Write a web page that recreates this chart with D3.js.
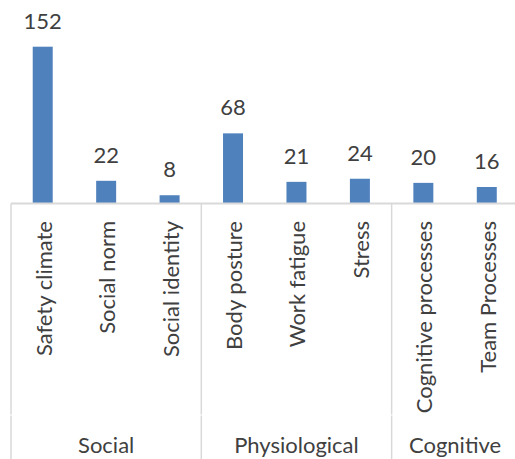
<!DOCTYPE html>
<html>
<head>
<meta charset="utf-8">
<script src="https://cdn.jsdelivr.net/npm/d3@7"></script>
<style>
  html, body { margin: 0; padding: 0; background: #fff; }
  svg { display: block; }
</style>
</head>
<body>
<svg id="chart" width="515" height="459"></svg>
<script>
const categories = ["Safety climate", "Social norm", "Social identity", "Body posture", "Work fatigue", "Stress", "Cognitive processes", "Team Processes"];
const values = [152, 22, 8, 68, 21, 24, 20, 16];
const groups = ["Social", "Physiological", "Cognitive"];
const groupSizes = [3, 3, 2];

const svg = d3.select("#chart");
const W = 515, H = 459;
const font = "Lato, 'Open Sans', sans-serif";
const fs = 22;
const textColor = "#404040";
const lineColor = "#d9d9d9";
const barColor = "#4f81bd";

const baseY = 203.5;
const x = d3.scaleBand().domain(categories).range([11, 518.5]).paddingInner(0.685).paddingOuter(0.3425);
const y = d3.scaleLinear().domain([0, 152]).range([baseY, 46.7]);
const step = x.step();
const half = step * x.paddingInner() / 2;

// bars
svg.selectAll("rect.bar").data(categories).join("rect")
  .attr("class", "bar")
  .attr("x", d => x(d))
  .attr("width", x.bandwidth())
  .attr("y", (d, i) => y(values[i]))
  .attr("height", (d, i) => y(0) - y(values[i]))
  .attr("fill", barColor);

// value labels
svg.selectAll("text.val").data(categories).join("text")
  .attr("class", "val")
  .attr("x", d => x(d) + x.bandwidth() / 2)
  .attr("y", (d, i) => y(values[i]) - 18)
  .attr("text-anchor", "middle")
  .attr("font-family", font)
  .attr("font-size", fs)
  .attr("fill", textColor)
  .text((d, i) => values[i]);

// axis line
svg.append("line")
  .attr("x1", 11).attr("x2", W + 5)
  .attr("y1", baseY).attr("y2", baseY)
  .attr("stroke", lineColor).attr("stroke-width", 2);

// category labels
svg.selectAll("text.cat").data(categories).join("text")
  .attr("class", "cat")
  .attr("transform", d => `translate(${x(d) + x.bandwidth() / 2 + 9},221) rotate(-90)`)
  .attr("text-anchor", "end")
  .attr("font-family", font)
  .attr("font-size", fs)
  .attr("fill", textColor)
  .text(d => d);

// group separators and labels
let idx = 0;
const bounds = [];
groupSizes.forEach((n, gi) => {
  const first = categories[idx];
  const last = categories[idx + n - 1];
  const left = x(first) - half;
  const right = x(last) + x.bandwidth() + half;
  bounds.push([left, right]);
  idx += n;
});
const sepXs = [bounds[0][0], ...bounds.map(b => b[1])];
sepXs.forEach(sx => {
  svg.append("line")
    .attr("x1", sx).attr("x2", sx)
    .attr("y1", baseY).attr("y2", 414.5)
    .attr("stroke", lineColor).attr("stroke-width", 1.5);
  svg.append("line")
    .attr("x1", sx).attr("x2", sx)
    .attr("y1", 415.5).attr("y2", H)
    .attr("stroke", lineColor).attr("stroke-width", 1.5);
});
svg.selectAll("text.grp").data(groups).join("text")
  .attr("class", "grp")
  .attr("x", (d, i) => (bounds[i][0] + bounds[i][1]) / 2)
  .attr("y", 453)
  .attr("text-anchor", "middle")
  .attr("font-family", font)
  .attr("font-size", fs)
  .attr("fill", textColor)
  .text(d => d);
</script>
</body>
</html>
